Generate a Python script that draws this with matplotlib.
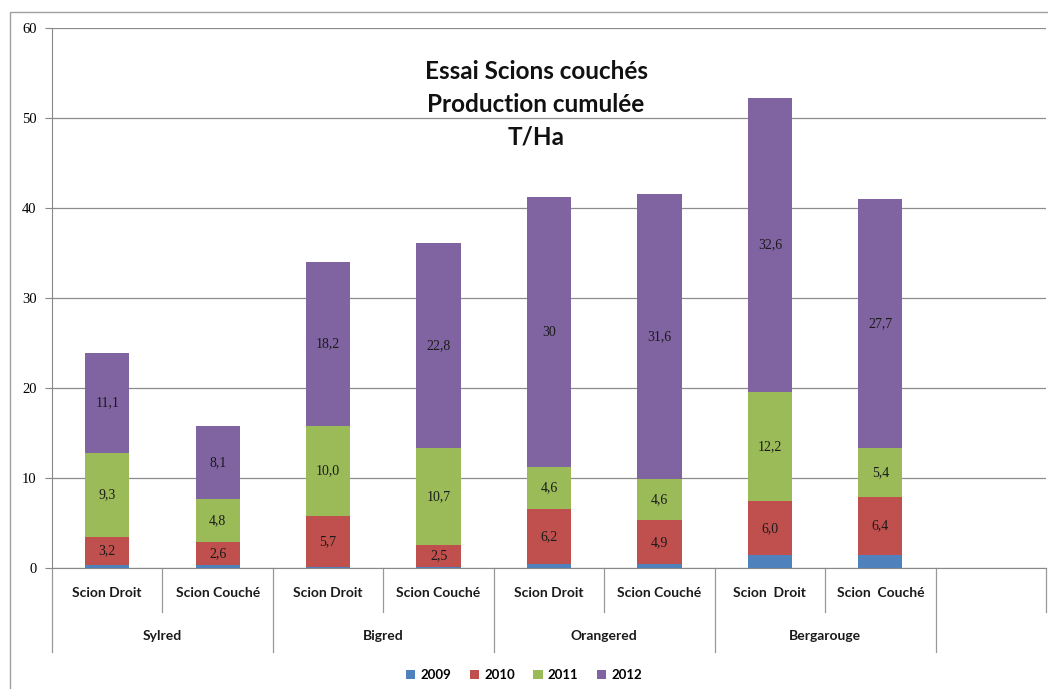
import matplotlib.pyplot as plt
from matplotlib.patches import Rectangle

varieties = ["Sylred", "Bigred", "Orangered", "Bergarouge"]
modes = [
    "Scion Droit", "Scion Couché",
    "Scion Droit", "Scion Couché",
    "Scion Droit", "Scion Couché",
    "Scion  Droit", "Scion  Couché",
]
years = ["2009", "2010", "2011", "2012"]

v2009 = [0.3, 0.3, 0.1, 0.1, 0.4, 0.4, 1.4, 1.5]
v2010 = [3.2, 2.6, 5.7, 2.5, 6.2, 4.9, 6.0, 6.4]
v2011 = [9.3, 4.8, 10.0, 10.7, 4.6, 4.6, 12.2, 5.4]
v2012 = [11.1, 8.1, 18.2, 22.8, 30, 31.6, 32.6, 27.7]

lab2010 = ["3,2", "2,6", "5,7", "2,5", "6,2", "4,9", "6,0", "6,4"]
lab2011 = ["9,3", "4,8", "10,0", "10,7", "4,6", "4,6", "12,2", "5,4"]
lab2012 = ["11,1", "8,1", "18,2", "22,8", "30", "31,6", "32,6", "27,7"]

colors = ["#4F81BD", "#C0504D", "#9BBB59", "#8064A2"]

fig = plt.figure(figsize=(10.48, 6.89), dpi=100)

# outer chart border
fig.patches.append(
    Rectangle(
        (10 / 1048, -0.01),
        1.0,
        1 - 12 / 689 + 0.01,
        transform=fig.transFigure,
        fill=False,
        edgecolor="#A0A0A0",
        linewidth=1.0,
    )
)

ax = fig.add_axes([52 / 1048, 1 - 568 / 689, (1046 - 52) / 1048, 540 / 689])

x = list(range(len(modes)))
series = [v2009, v2010, v2011, v2012]
labels = [None, lab2010, lab2011, lab2012]

bottom = [0.0] * len(modes)
for vals, lab, col, year in zip(series, labels, colors, years):
    ax.bar(x, vals, width=0.4, bottom=bottom, color=col, label=year, zorder=3)
    if lab is not None:
        for i, (v, t) in enumerate(zip(vals, lab)):
            ax.text(
                i, bottom[i] + v / 2, t,
                ha="center", va="center",
                fontsize=10, family="Liberation Serif", color="#1a1a1a",
                zorder=4,
            )
    bottom = [b + v for b, v in zip(bottom, vals)]

ax.set_xlim(-0.5, 8.5)
ax.set_ylim(0, 60)
ax.set_yticks(range(0, 61, 10))
ax.tick_params(axis="y", length=5, color="#888888", labelsize=10.5, pad=6)
for t in ax.get_yticklabels():
    t.set_family("Liberation Serif")
ax.yaxis.grid(True, color="#8c8c8c", linewidth=0.9, zorder=0)
ax.set_xticks([])

for side in ["top", "right"]:
    ax.spines[side].set_visible(False)
ax.spines["left"].set_color("#888888")
ax.spines["bottom"].set_color("#888888")

# category axis: separators and labels
tr = ax.get_xaxis_transform()
inner_depth = -44 / 540
group_depth = -84 / 540
for k in range(10):
    pos = k - 0.5
    depth = group_depth if k % 2 == 0 else inner_depth
    ax.plot([pos, pos], [0, depth], transform=tr, color="#999999",
            linewidth=0.9, clip_on=False)

for i, m in enumerate(modes):
    ax.text(i, -25 / 540, m, transform=tr, ha="center", va="center",
            fontsize=10, family="Lato", fontweight="bold", color="#1a1a1a")

for g, name in enumerate(varieties):
    ax.text(2 * g + 0.5, -68 / 540, name, transform=tr, ha="center",
            va="center", fontsize=10, family="Lato", fontweight="bold",
            color="#1a1a1a")

ax.text(
    0.487, 0.859,
    "Essai Scions couchés\nProduction cumulée\nT/Ha",
    transform=ax.transAxes, ha="center", va="center",
    fontsize=17.5, family="Lato", fontweight="bold", linespacing=1.5,
    color="#111111",
)

fig.legend(
    loc="center", bbox_to_anchor=(0.5, 1 - 675 / 689), ncol=4,
    frameon=False, handlelength=0.7, handleheight=0.7, handletextpad=0.4,
    columnspacing=1.4, prop={"family": "Lato", "weight": "bold", "size": 9.5},
)

fig.savefig("out.png", dpi=100)
